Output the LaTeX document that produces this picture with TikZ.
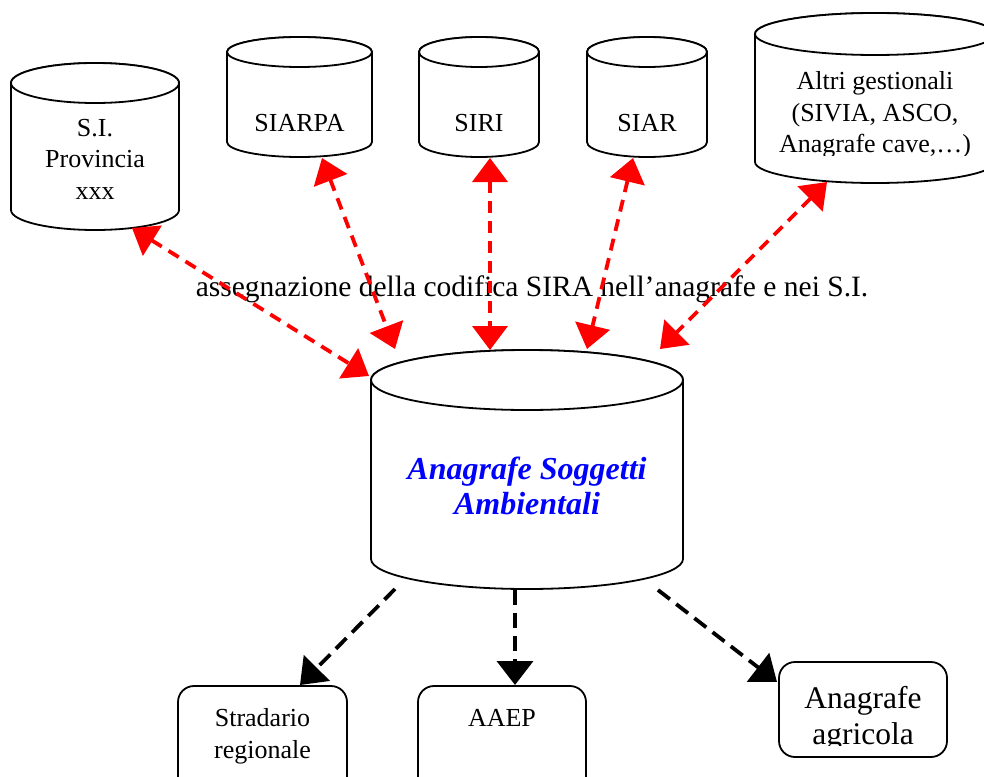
\documentclass[tikz,border=0pt]{standalone}
\usepackage{fontspec}
\setmainfont{Liberation Serif}
\usetikzlibrary{arrows.meta}
\newcommand\dbcyl[5]{% cx, top y, bottom y, rx, ry
  \filldraw[cylline] (#1-#4,#2) -- (#1-#4,#3)
    arc[start angle=180,end angle=360,x radius=#4pt,y radius=#5pt]
    -- (#1+#4,#2)
    arc[start angle=0,end angle=180,x radius=#4pt,y radius=#5pt] -- cycle;
  \draw[cylline] (#1,#2) ellipse[x radius=#4pt,y radius=#5pt];}
\begin{document}
\begin{tikzpicture}[x=1pt,y=-1pt,
  cylline/.style={draw=black,fill=white,line width=1.8pt},
  boxs/.style={draw=black,fill=white,line width=1.8pt,rounded corners=16pt,inner sep=0pt},
  lbl/.style={align=center,font=\fontsize{26}{31.5}\selectfont,inner sep=0pt},
  redarrow/.style={red,line width=3.8pt,dash pattern=on 12pt off 8pt,
     {Triangle[length=24pt,width=35pt]}-{Triangle[length=24pt,width=35pt]}},
  blkarrow/.style={black,line width=3.8pt,dash pattern=on 15pt off 8pt,
     -{Triangle[length=24pt,width=36pt]}}]
\clip (0,0) rectangle (984,776);
\fill[white] (0,0) rectangle (984,776);

% cylinders
\dbcyl{95}{83}{210}{84}{20}
\dbcyl{299.5}{52}{142}{72.5}{15}
\dbcyl{479}{52}{142}{60}{15}
\dbcyl{647}{52}{142}{60}{15}
\dbcyl{875}{34}{162}{120}{21}
\dbcyl{527}{380}{559}{156}{30}

\node[lbl] (prov) at (95,159) {S.I.\\Provincia\\xxx};
\node[lbl] (siarpa) at (299.5,123) {SIARPA};
\node[lbl] (siri) at (479,123) {SIRI};
\node[lbl] (siar) at (647,123) {SIAR};
\begin{scope}
  \clip (755,0) rectangle (984,155);
  \node[lbl] (altri) at (875,115) {Altri gestionali\\(SIVIA, ASCO,\\Anagrafe cave,…)};
\end{scope}
\node[align=center,inner sep=0pt,text=blue,font=\fontsize{32}{35}\selectfont\bfseries\itshape]
  (anag) at (527,486) {Anagrafe Soggetti\\Ambientali};

% caption
\node[inner sep=0pt,font=\fontsize{29.5}{34}\selectfont] (capt) at (532,289)
  {assegnazione della codifica SIRA nell’anagrafe e nei S.I.};

% bottom boxes
\node[boxs,minimum width=169pt,minimum height=114pt] (strad) at (262.5,743) {};
\node[boxs,minimum width=168pt,minimum height=114pt] (aaep) at (502,743) {};
\node[boxs,minimum width=168pt,minimum height=95pt] (agri) at (863,709.5) {};
\node[lbl,font=\fontsize{26}{32}\selectfont] (stradT) at (262.5,736) {Stradario\\regionale};
\node[lbl] (aaepT) at (502,718) {AAEP};
\begin{scope}
  \clip (779,662) rectangle (947,745);
  \node[lbl,font=\fontsize{31.5}{36}\selectfont] (agriT) at (863,719) {Anagrafe\\agricola};
\end{scope}

% arrow end points
\coordinate (provE) at (132,228);   \coordinate (cenP) at (369,376);
\coordinate (siarpaE) at (322,158); \coordinate (cenS) at (395,349);
\coordinate (siriE) at (490,158);   \coordinate (cenR) at (490,350);
\coordinate (siarE) at (633,158);   \coordinate (cenA) at (587,349);
\coordinate (altriE) at (827,182);  \coordinate (cenX) at (660,349);
\coordinate (outS) at (395,589);    \coordinate (stradE) at (300,685);
\coordinate (outA) at (515,590);    \coordinate (aaepE) at (515,685);
\coordinate (outG) at (658,590);    \coordinate (agriE) at (777,682);

\draw[redarrow] (provE) -- (cenP);
\draw[redarrow] (siarpaE) -- (cenS);
\draw[redarrow] (siriE) -- (cenR);
\draw[redarrow] (siarE) -- (cenA);
\draw[redarrow] (altriE) -- (cenX);

\draw[blkarrow] (outS) -- (stradE);
\draw[blkarrow] (outA) -- (aaepE);
\draw[blkarrow] (outG) -- (agriE);
\end{tikzpicture}
\end{document}
